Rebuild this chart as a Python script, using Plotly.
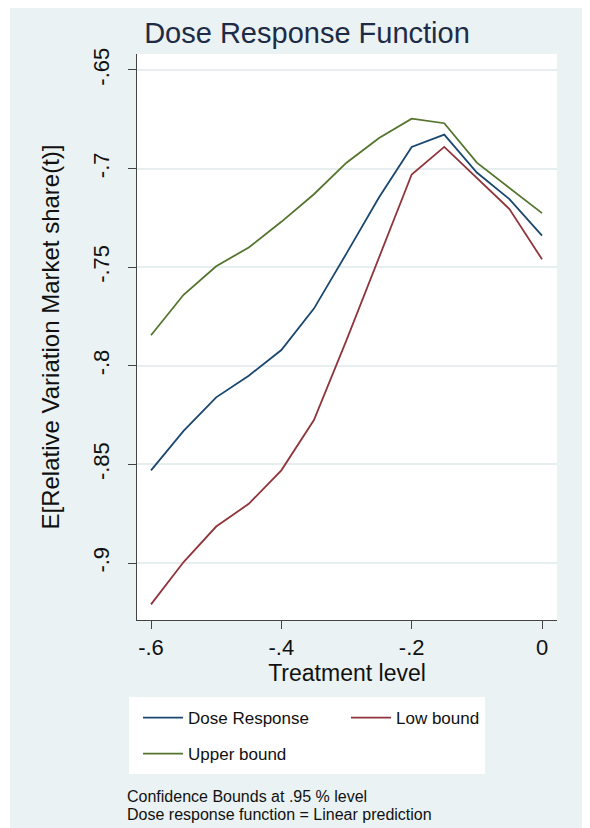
import plotly.graph_objects as go

# ---- data ----
treatment = [-0.6, -0.55, -0.5, -0.45, -0.4, -0.35, -0.3, -0.25, -0.2, -0.15, -0.1, -0.05, 0.0]
dose_response = [-0.853, -0.833, -0.816, -0.805, -0.792, -0.771, -0.743, -0.7145, -0.689, -0.6828, -0.702, -0.7155, -0.734]
low_bound = [-0.921, -0.8995, -0.8815, -0.870, -0.853, -0.8275, -0.787, -0.7455, -0.703, -0.689, -0.705, -0.7205, -0.746]
upper_bound = [-0.7845, -0.764, -0.7495, -0.740, -0.727, -0.713, -0.697, -0.6845, -0.6747, -0.677, -0.697, -0.710, -0.7226]

x_tickvals = [-0.6, -0.4, -0.2, 0.0]
x_ticktext = ["-.6", "-.4", "-.2", "0"]
y_tickvals = [-0.9, -0.85, -0.8, -0.75, -0.7, -0.65]
y_ticktext = ["-.9", "-.85", "-.8", "-.75", "-.7", "-.65"]

title_text = "Dose Response Function"
x_title = "Treatment level"
y_title = "E[Relative Variation Market share(t)]"
notes = ["Confidence Bounds at .95 % level", "Dose response function = Linear prediction"]

# ---- layout geometry (pixels); the page body adds an 8px offset ----
OFF = 8
W, H = 590 - OFF, 828 - OFF
L, R, T, B = 137 - OFF, 33, 54 - OFF, 208
PW, PH = W - L - R, H - T - B


def px(xp):
    """reference-page x pixel -> paper coordinate"""
    return (xp - OFF - L) / PW


def py(yp):
    """reference-page y pixel -> paper coordinate"""
    return (H - B - (yp - OFF)) / PH


FONT = "Liberation Sans, Arial, sans-serif"
BG = "#eaf2f3"
NAVY, MAROON, GREEN = "#1a476f", "#90353b", "#55752f"

fig = go.Figure()
fig.add_trace(go.Scatter(x=treatment, y=dose_response, mode="lines", name="Dose Response",
                         line=dict(color=NAVY, width=1.8), legend="legend"))
fig.add_trace(go.Scatter(x=treatment, y=low_bound, mode="lines", name="Low bound",
                         line=dict(color=MAROON, width=1.8), legend="legend"))
fig.add_trace(go.Scatter(x=treatment, y=upper_bound, mode="lines", name="Upper bound",
                         line=dict(color=GREEN, width=1.8), legend="legend2"))

shapes = [
    # thin white strip on the left edge of the reference image
    dict(type="rect", xref="paper", yref="paper", x0=px(OFF), x1=px(10), y0=py(828), y1=py(OFF),
         fillcolor="white", line=dict(width=0), layer="above"),
    # legend box
    dict(type="rect", xref="paper", yref="paper", x0=px(129), x1=px(485), y0=py(774), y1=py(697),
         fillcolor="white", line=dict(width=0), layer="below"),
]

annotations = [
    dict(text=notes[0], xref="paper", yref="paper", x=px(125), y=py(796), xanchor="left",
         yanchor="middle", showarrow=False, font=dict(size=16, color="#111111", family=FONT)),
    dict(text=notes[1], xref="paper", yref="paper", x=px(125), y=py(814), xanchor="left",
         yanchor="middle", showarrow=False, font=dict(size=16, color="#111111", family=FONT)),
]

legend_common = dict(orientation="h", xanchor="left", yanchor="middle", bgcolor="rgba(0,0,0,0)",
                     font=dict(size=17, color="#111111", family=FONT), itemwidth=40,
                     entrywidth=153, entrywidthmode="pixels")

fig.update_layout(
    width=W, height=H,
    margin=dict(l=L, r=R, t=T, b=B, autoexpand=False),
    paper_bgcolor=BG, plot_bgcolor="white",
    font=dict(family=FONT, color="#111111"),
    title=dict(text=title_text, x=px(307), xref="paper", xanchor="center",
               y=1 - (33 - OFF) / H, yref="container", yanchor="middle",
               font=dict(size=29, color="#1e2b47", family=FONT)),
    xaxis=dict(range=[-0.6215, 0.023], tickvals=x_tickvals, ticktext=x_ticktext,
               showline=True, linecolor="#444444", linewidth=1, ticks="outside", ticklen=8,
               tickcolor="#444444", showgrid=False, zeroline=False,
               tickfont=dict(size=22, color="#111111"),
               title=dict(text=x_title, font=dict(size=23, color="#111111"), standoff=0)),
    yaxis=dict(range=[-0.9289, -0.6419], tickvals=y_tickvals, ticktext=y_ticktext,
               showline=True, linecolor="#444444", linewidth=1, ticks="outside", ticklen=8,
               tickcolor="#444444", showgrid=True, gridcolor="#e6eef0", gridwidth=1.5,
               zeroline=False, tickangle=-90, ticklabelstandoff=10,
               tickfont=dict(size=22, color="#111111"),
               title=dict(text=y_title, font=dict(size=24, color="#111111"), standoff=22)),
    legend=dict(x=px(138), y=py(718), **legend_common),
    legend2=dict(x=px(138), y=py(754), **legend_common),
    shapes=shapes,
    annotations=annotations,
)

fig.write_html("out.html")
